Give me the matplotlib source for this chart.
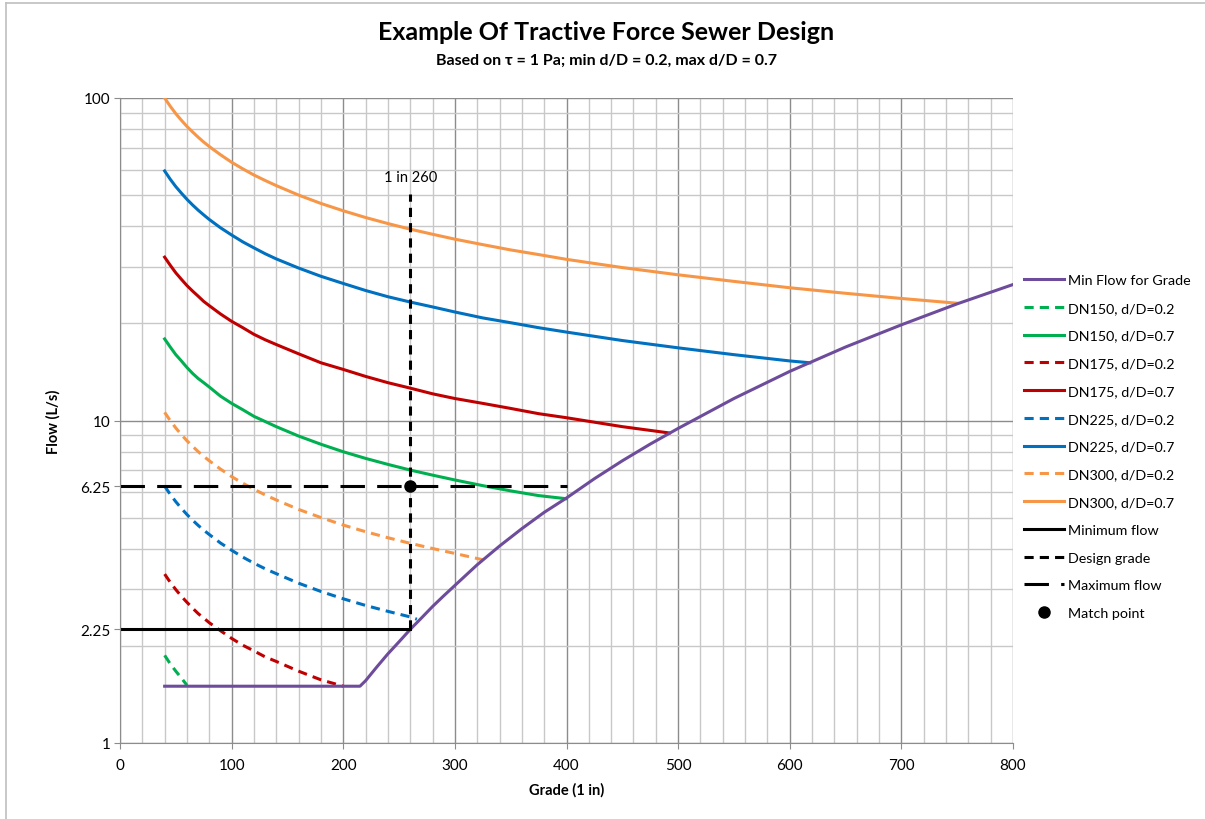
import numpy as np
import matplotlib
matplotlib.use("Agg")
import matplotlib.pyplot as plt
from matplotlib.lines import Line2D
from matplotlib.ticker import FixedLocator, MultipleLocator, NullFormatter, FuncFormatter

plt.rcParams['font.family'] = ['Lato', 'DejaVu Sans']

# grades (1 in x) shared by the pipe curves
grade = [40, 45, 50, 55, 60, 65, 70, 75, 80, 90, 100, 110, 120, 130, 140, 160, 180, 200,
         220, 240, 260, 280, 300, 325, 350, 375, 400, 450, 500, 550, 600, 650, 700, 750]

# flows (L/s)
dn300_07 = [100, 94.3, 89.4, 85.3, 81.6, 78.5, 75.6, 73.0, 70.7, 66.7, 63.2, 60.3, 57.7,
            55.5, 53.5, 50.0, 47.1, 44.7, 42.6, 40.8, 39.2, 37.8, 36.5, 35.1, 33.8, 32.7,
            31.6, 29.8, 28.3, 27.0, 25.8, 24.8, 23.9, 23.1]
dn225_07 = [59.4, 56.0, 53.1, 50.7, 48.5, 46.6, 44.9, 43.4, 42.0, 39.6, 37.6, 35.8, 34.3,
            32.9, 31.7, 29.7, 28.0, 26.6, 25.3, 24.2, 23.3, 22.5, 21.7, 20.8, 20.1, 19.4,
            18.8, 17.7, 16.8, 16.0, 15.3]
dn175_07 = [32.1, 30.3, 28.7, 27.4, 26.2, 25.2, 24.3, 23.4, 22.7, 21.4, 20.3, 19.4, 18.5,
            17.8, 17.2, 16.1, 15.1, 14.4, 13.7, 13.1, 12.6, 12.1, 11.7, 11.3, 10.9, 10.5,
            10.2, 9.57]
dn150_07 = [17.9, 16.9, 16.0, 15.3, 14.6, 14.0, 13.5, 13.1, 12.7, 11.9, 11.3, 10.8, 10.3,
            9.93, 9.57, 8.95, 8.44, 8.0, 7.63, 7.31, 7.02, 6.77, 6.54, 6.28, 6.05, 5.85]
dn300_02 = [10.6, 9.99, 9.48, 9.04, 8.65, 8.32, 8.01, 7.74, 7.50, 7.07, 6.70, 6.39, 6.12,
            5.88, 5.67, 5.30, 5.00, 4.74, 4.52, 4.33, 4.16, 4.01, 3.87]
dn225_02 = [6.26, 5.90, 5.60, 5.34, 5.11, 4.91, 4.73, 4.57, 4.43, 4.17, 3.96, 3.77, 3.61,
            3.47, 3.35, 3.13, 2.95, 2.80, 2.67, 2.56, 2.46]
dn175_02 = [3.34, 3.15, 2.99, 2.85, 2.73, 2.62, 2.52, 2.44, 2.36, 2.23, 2.11, 2.01, 1.93,
            1.85, 1.79, 1.67, 1.57, 1.50]
dn150_02 = [1.87, 1.76, 1.67, 1.59, 1.51]

# end points where a curve meets the min flow line between grid grades
ends = {
    'dn225_07': (618, 15.1),
    'dn175_07': (492, 9.15),
    'dn150_07': (400, 5.72),
    'dn300_02': (325, 3.70),
    'dn225_02': (266, 2.42),
}

min_grade = [40, 215, 220, 230, 240, 250, 260, 270, 280, 290, 300, 320, 340, 360, 380, 400,
             425, 450, 475, 500, 550, 600, 650, 700, 750, 800]
min_flow = [1.5, 1.5, 1.56, 1.72, 1.89, 2.06, 2.25, 2.44, 2.65, 2.86, 3.08, 3.57, 4.08,
            4.62, 5.19, 5.75, 6.6, 7.5, 8.45, 9.45, 11.7, 14.2, 16.9, 19.8, 23.0, 26.4]

design_grade = 260
q_min = 2.25
q_max = 6.25
grade_top = 50.4

green = '#00b050'
red = '#c00000'
blue = '#0070c0'
orange = '#f79646'
purple = '#6e4c9c'

fig = plt.figure(figsize=(12.05, 8.2), dpi=100)
ax = fig.add_axes([120/1205, 1-744/820, (1013-120)/1205, (744-99)/820])

def curve(vals, key=None):
    x = list(grade[:len(vals)])
    y = list(vals)
    if key is not None:
        x.append(ends[key][0])
        y.append(ends[key][1])
    return x, y

lw = 2.2
dsh = (0, (3, 2))
ax.plot(*curve(dn300_07), color=orange, lw=lw)
ax.plot(*curve(dn225_07, 'dn225_07'), color=blue, lw=lw)
ax.plot(*curve(dn175_07, 'dn175_07'), color=red, lw=lw)
ax.plot(*curve(dn150_07, 'dn150_07'), color=green, lw=lw)
ax.plot(*curve(dn300_02, 'dn300_02'), color=orange, lw=lw, linestyle=dsh)
ax.plot(*curve(dn225_02, 'dn225_02'), color=blue, lw=lw, linestyle=dsh)
ax.plot(*curve(dn175_02), color=red, lw=lw, linestyle=dsh)
ax.plot(*curve(dn150_02), color=green, lw=lw, linestyle=dsh)
ax.plot(min_grade, min_flow, color=purple, lw=lw)

ax.plot([0, design_grade], [q_min, q_min], color='black', lw=lw)
ax.plot([design_grade, design_grade], [q_min, grade_top], color='black', lw=lw,
        linestyle=(0, (3, 2)))
ax.plot([0, 400], [q_max, q_max], color='black', lw=lw, linestyle=(0, (8, 4)))
ax.plot([design_grade], [q_max], 'o', color='black', ms=8)
ax.text(design_grade, grade_top * 1.07, '1 in 260', ha='center', va='bottom', fontsize=10.5)

ax.set_yscale('log')
ax.set_xlim(0, 800)
ax.set_ylim(1, 100)
ax.xaxis.set_major_locator(MultipleLocator(100))
ax.xaxis.set_minor_locator(MultipleLocator(20))
ax.yaxis.set_major_locator(FixedLocator([1, 2.25, 6.25, 10, 100]))
ax.yaxis.set_major_formatter(FuncFormatter(lambda v, p: '%g' % v))
minor_y = [m * 10 ** k for k in range(2) for m in range(2, 10)]
ax.yaxis.set_minor_locator(FixedLocator(minor_y))
ax.yaxis.set_minor_formatter(NullFormatter())
ax.grid(True, which='major', color='#8c8c8c', lw=1.0)
ax.grid(True, which='minor', color='#c8c8c8', lw=1.0)
ax.set_axisbelow(True)
for s in ['top', 'right']:
    ax.spines[s].set_visible(False)
for s in ['left', 'bottom']:
    ax.spines[s].set_color('#8c8c8c')
ax.tick_params(which='major', length=4, color='#8c8c8c', labelsize=11)
ax.tick_params(axis='y', which='major', pad=3)
ax.tick_params(axis='x', which='major', pad=7)
ax.tick_params(which='minor', length=0)
ax.set_xlabel('Grade (1 in)', fontsize=10.5, fontweight='bold', labelpad=7)
ax.set_ylabel('Flow (L/s)', fontsize=10.5, fontweight='bold', labelpad=14)

fig.canvas.draw()
for t in ax.yaxis.get_major_ticks():
    if t.get_loc() in (2.25, 6.25):
        t.gridline.set_visible(False)

fig.text(606/1205, 1-33/820, 'Example Of Tractive Force Sewer Design', ha='center',
         va='center', fontsize=18, fontweight='bold')
fig.text(606/1205, 1-61/820, 'Based on \u03c4 = 1 Pa; min d/D = 0.2, max d/D = 0.7',
         ha='center', va='center', fontsize=11.5, fontweight='bold')

handles = [
    Line2D([], [], color=purple, lw=lw),
    Line2D([], [], color=green, lw=lw, linestyle=dsh),
    Line2D([], [], color=green, lw=lw),
    Line2D([], [], color=red, lw=lw, linestyle=dsh),
    Line2D([], [], color=red, lw=lw),
    Line2D([], [], color=blue, lw=lw, linestyle=dsh),
    Line2D([], [], color=blue, lw=lw),
    Line2D([], [], color=orange, lw=lw, linestyle=dsh),
    Line2D([], [], color=orange, lw=lw),
    Line2D([], [], color='black', lw=lw),
    Line2D([], [], color='black', lw=lw, linestyle=(0, (3, 2))),
    Line2D([], [], color='black', lw=lw, linestyle=(0, (8, 4))),
    Line2D([], [], color='black', marker='o', ms=8, linestyle='none'),
]
labels = ['Min Flow for Grade', 'DN150, d/D=0.2', 'DN150, d/D=0.7', 'DN175, d/D=0.2',
          'DN175, d/D=0.7', 'DN225, d/D=0.2', 'DN225, d/D=0.7', 'DN300, d/D=0.2',
          'DN300, d/D=0.7', 'Minimum flow', 'Design grade', 'Maximum flow', 'Match point']
fig.legend(handles, labels, loc='upper left', bbox_to_anchor=(1024/1205, 1-275/820),
           frameon=False, fontsize=10.3, handlelength=2.8, handletextpad=0.3,
           labelspacing=1.1, borderaxespad=0, borderpad=0)

fig.add_artist(Line2D([6/1205, 6/1205], [0, 1-4/820], color='#bfbfbf', lw=1.2))
fig.add_artist(Line2D([6/1205, 1], [1-4/820, 1-4/820], color='#bfbfbf', lw=1.2))

fig.savefig('out.png', dpi=100)
